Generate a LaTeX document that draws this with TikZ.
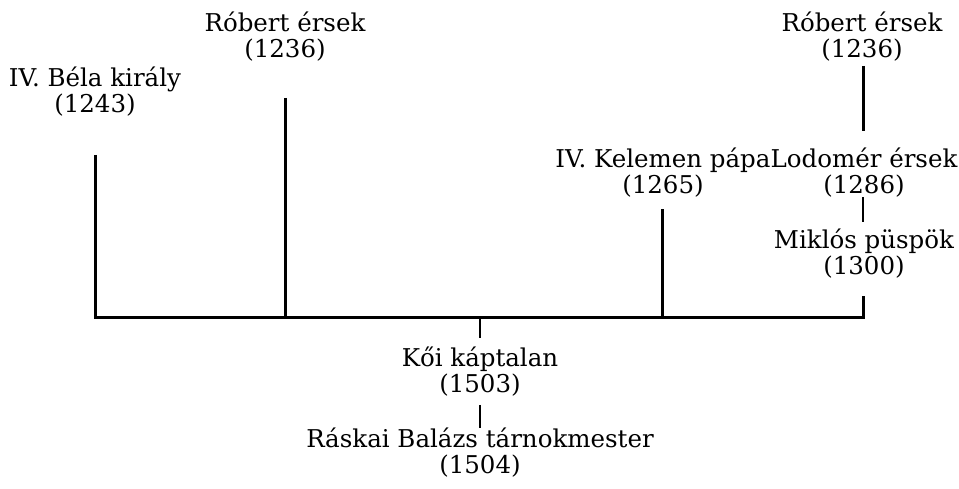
\documentclass[tikz,border=0pt]{standalone}
\usepackage{fontspec}
\setmainfont{DejaVu Serif}
\begin{document}
\begin{tikzpicture}[x=1pt,y=-1pt,
  lab/.style={align=center,inner sep=0pt,font=\fontsize{24.5}{26}\selectfont},
  trait/.style={line width=3pt},
  petit/.style={line width=2.4pt}]
\useasboundingbox (0,0) rectangle (959,488);
% names and years
\node[lab] (bela) at (95,92) {IV. Béla király\\(1243)};
\node[lab] (robert) at (285,37) {Róbert érsek\\(1236)};
\node[lab] (kelemen) at (663,172.5) {IV. Kelemen pápa\\(1265)};
\node[lab] (robertb) at (862,37) {Róbert érsek\\(1236)};
\node[lab] (lodomer) at (864,172.5) {Lodomér érsek\\(1286)};
\node[lab] (miklos) at (864,254) {Miklós püspök\\(1300)};
\node[lab] (koi) at (480,372) {Kői káptalan\\(1503)};
\node[lab] (raskai) at (480,452.5) {Ráskai Balázs tárnokmester\\(1504)};
% points on the line
\coordinate (a) at (95,317);
\coordinate (b) at (285,317);
\coordinate (c) at (480,317);
\coordinate (d) at (662,317);
\coordinate (e) at (863,317);
% lines
\draw [trait,shorten <=38pt,shorten >=17pt] (a |- bela.south)--(a)--(e)--(e |- miklos.south);
\draw [trait,shorten <=36pt] (b |- robert.south)--(b);
\draw [trait,shorten <=12pt] (d |- kelemen.south)--(d);
\draw [petit,shorten >=9pt] (c)--(koi.north);
\draw [petit,shorten <=8pt] (koi.south)--(raskai.north);
\draw [trait,shorten <=4pt,shorten >=17pt] (e |- robertb.south)--(e |- lodomer.north);
\draw [petit,shorten >=7pt] (e |- lodomer.south)--(e |- miklos.north);
\end{tikzpicture}
\end{document}
